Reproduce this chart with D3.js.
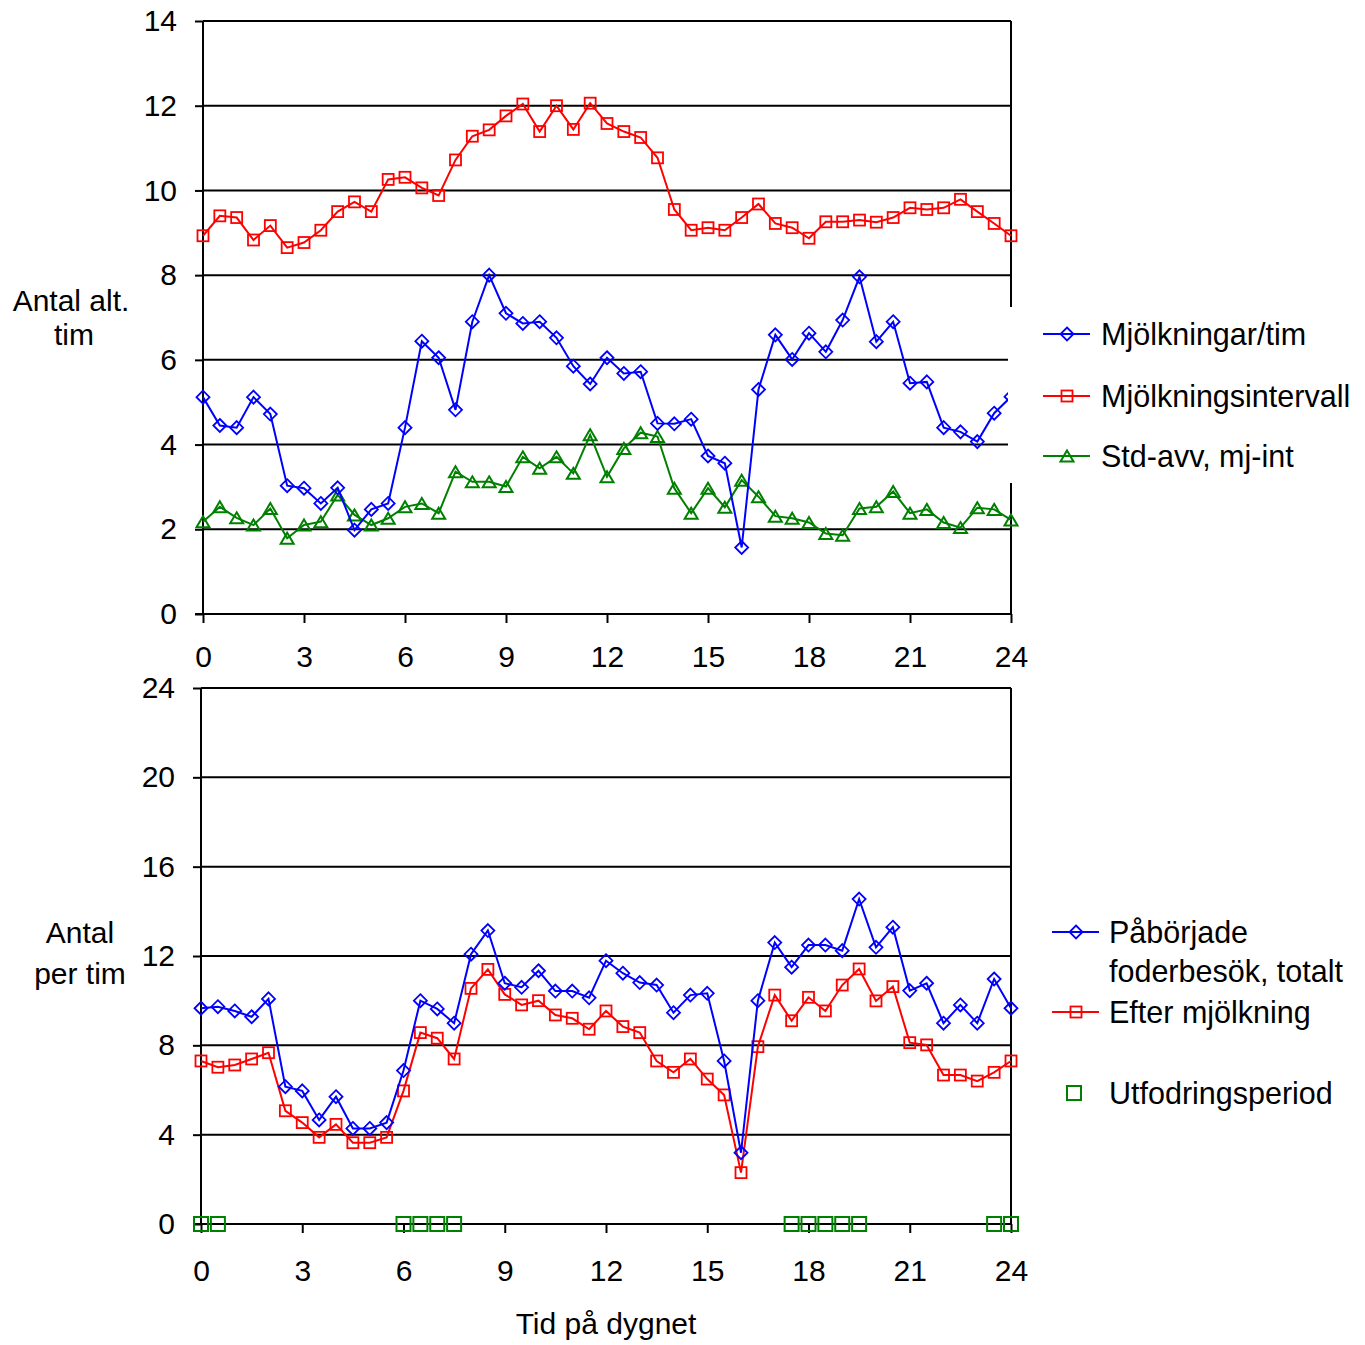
<!DOCTYPE html>
<html><head><meta charset="utf-8">
<script src="https://cdn.jsdelivr.net/npm/d3@7"></script>
<style>body{margin:0;background:#fff} text{font-family:"Liberation Sans",Arial,sans-serif;fill:#000}</style>
</head><body><svg id="c" width="1365" height="1345"></svg>
<script>
const hours = [0,0.5,1,1.5,2,2.5,3,3.5,4,4.5,5,5.5,6,6.5,7,7.5,8,8.5,9,9.5,10,10.5,11,11.5,12,12.5,13,13.5,14,14.5,15,15.5,16,16.5,17,17.5,18,18.5,19,19.5,20,20.5,21,21.5,22,22.5,23,23.5,24];
const xTicks = [0,3,6,9,12,15,18,21,24];
const topYTicks = [0,2,4,6,8,10,12,14];
const botYTicks = [0,4,8,12,16,20,24];

// Top panel
const mjolkningar = [5.12,4.45,4.40,5.12,4.72,3.03,2.97,2.61,2.98,1.98,2.47,2.61,4.40,6.44,6.05,4.82,6.90,8.00,7.10,6.86,6.90,6.52,5.85,5.43,6.05,5.68,5.72,4.50,4.49,4.60,3.73,3.56,1.57,5.30,6.59,6.01,6.63,6.19,6.94,7.96,6.43,6.90,5.45,5.48,4.40,4.30,4.07,4.74,5.13];
const intervall = [8.93,9.40,9.36,8.83,9.17,8.65,8.77,9.06,9.50,9.73,9.50,10.26,10.31,10.06,9.88,10.72,11.28,11.43,11.76,12.04,11.39,12.00,11.44,12.06,11.58,11.39,11.25,10.77,9.55,9.06,9.12,9.06,9.36,9.68,9.22,9.12,8.87,9.26,9.26,9.30,9.25,9.36,9.59,9.55,9.59,9.79,9.50,9.22,8.93];
const stdavv = [2.18,2.53,2.27,2.10,2.49,1.79,2.10,2.18,2.81,2.34,2.10,2.26,2.53,2.61,2.38,3.36,3.12,3.12,3.01,3.71,3.44,3.71,3.32,4.23,3.24,3.91,4.28,4.19,2.97,2.38,2.97,2.52,3.16,2.77,2.31,2.26,2.16,1.90,1.86,2.49,2.53,2.89,2.38,2.47,2.16,2.04,2.51,2.47,2.22];

// Bottom panel
const paborjade = [9.66,9.73,9.54,9.28,10.08,6.15,5.96,4.66,5.70,4.28,4.28,4.54,6.87,10.00,9.63,8.99,12.08,13.14,10.78,10.60,11.34,10.43,10.43,10.13,11.79,11.23,10.81,10.70,9.46,10.25,10.33,7.30,3.19,10.00,12.60,11.50,12.49,12.49,12.24,14.55,12.39,13.29,10.45,10.78,8.99,9.81,8.99,10.97,9.66];
const efter = [7.30,7.02,7.12,7.39,7.67,5.07,4.54,3.88,4.46,3.64,3.64,3.88,5.96,8.57,8.32,7.39,10.55,11.40,10.28,9.81,10.00,9.36,9.21,8.72,9.54,8.84,8.57,7.30,6.79,7.39,6.49,5.78,2.30,7.94,10.25,9.10,10.15,9.54,10.70,11.42,9.99,10.63,8.12,8.02,6.67,6.67,6.40,6.79,7.30];
const utfodringHours = [0,0.5,6,6.5,7,7.5,17.5,18,18.5,19,19.5,23.5,24];
const utfodringValues = [0,0,0,0,0,0,0,0,0,0,0,0,0];

const topLegend = ["Mjölkningar/tim","Mjölkningsintervall","Std-avv, mj-int"];
const botLegend = [["Påbörjade","foderbesök, totalt"],["Efter mjölkning"],["Utfodringsperiod"]];

const BLUE="#0000ff", RED="#ff0000", GREEN="#008000";
const svg = d3.select("#c");
const FS = 30;

function marker(g, type, x, y, color){
  if(type==="diamond"){
    const r=6.5;
    g.append("path").attr("d",`M${x},${y-r}L${x+r},${y}L${x},${y+r}L${x-r},${y}Z`)
      .attr("fill","none").attr("stroke",color).attr("stroke-width",1.8);
  } else if(type==="square"){
    const s=11;
    g.append("rect").attr("x",x-s/2).attr("y",y-s/2).attr("width",s).attr("height",s)
      .attr("fill","none").attr("stroke",color).attr("stroke-width",1.8);
  } else if(type==="triangle"){
    const w=13,h=11;
    g.append("path").attr("d",`M${x},${y-h/2}L${x+w/2},${y+h/2}L${x-w/2},${y+h/2}Z`)
      .attr("fill","none").attr("stroke",color).attr("stroke-width",2);
  } else if(type==="bigsquare"){
    const s=14;
    g.append("rect").attr("x",x-s/2).attr("y",y-s/2).attr("width",s).attr("height",s)
      .attr("fill","none").attr("stroke",color).attr("stroke-width",2);
  }
}

function panel(cfg){
  const x = d3.scaleLinear().domain([0,24]).range([cfg.x0,cfg.x1]);
  const y = d3.scaleLinear().domain([0,cfg.ymax]).range([cfg.y0,cfg.y1]);
  const g = svg.append("g");
  cfg.yTicks.filter(v=>v>0 && v<cfg.ymax).forEach(v=>{
    g.append("line").attr("x1",cfg.x0).attr("x2",cfg.x1-1).attr("y1",y(v)).attr("y2",y(v))
      .attr("stroke","#000").attr("stroke-width",2);
  });
  g.append("line").attr("x1",cfg.x0).attr("x2",cfg.x1).attr("y1",y(cfg.ymax)).attr("y2",y(cfg.ymax)).attr("stroke","#000").attr("stroke-width",2);
  g.append("line").attr("x1",cfg.x1).attr("x2",cfg.x1).attr("y1",y(cfg.ymax)).attr("y2",y(0)).attr("stroke","#000").attr("stroke-width",2);
  const ya = d3.axisLeft(y).tickValues(cfg.yTicks).tickSize(8).tickPadding(18).tickFormat(d3.format("d"));
  const yg = g.append("g").attr("transform",`translate(${cfg.x0},0)`).call(ya);
  const xa = d3.axisBottom(x).tickValues(xTicks).tickSize(9).tickPadding(cfg.xpad).tickFormat(d3.format("d"));
  const xg = g.append("g").attr("transform",`translate(0,${cfg.y0})`).call(xa);
  [yg,xg].forEach(a=>{
    a.select(".domain").attr("stroke","#000").attr("stroke-width",2);
    a.selectAll(".tick line").attr("stroke","#000").attr("stroke-width",2);
    a.selectAll(".tick text").attr("font-size",FS).attr("font-family","Liberation Sans, Arial, sans-serif").attr("fill","#000");
  });
  yg.select(".domain").attr("d",`M0,${cfg.y0}V${cfg.y1}`);
  xg.select(".domain").attr("d",`M${cfg.x0-8},0H${cfg.x1}`);
  cfg.series.forEach(s=>{
    const line = d3.line().x((d,i)=>x(s.xs[i])).y(d=>y(d));
    if(s.line) g.append("path").datum(s.values).attr("d",line).attr("fill","none").attr("stroke",s.color).attr("stroke-width",2);
    s.values.forEach((v,i)=>marker(g,s.marker,x(s.xs[i]),y(v),s.color));
  });
  return g;
}

panel({x0:203,x1:1011,y0:614,y1:21,ymax:14,yTicks:topYTicks,xpad:23,series:[
  {values:intervall,xs:hours,color:RED,marker:"square",line:true},
  {values:stdavv,xs:hours,color:GREEN,marker:"triangle",line:true},
  {values:mjolkningar,xs:hours,color:BLUE,marker:"diamond",line:true}
]});
panel({x0:201,x1:1011,y0:1224,y1:688,ymax:24,yTicks:botYTicks,xpad:27,series:[
  {values:efter,xs:hours,color:RED,marker:"square",line:true},
  {values:paborjade,xs:hours,color:BLUE,marker:"diamond",line:true},
  {values:utfodringValues,xs:utfodringHours,color:GREEN,marker:"bigsquare",line:false}
]});

function txt(t,x,y,anchor,fs){
  svg.append("text").attr("x",x).attr("y",y).attr("dy","0.35em").attr("font-size",fs||FS)
    .attr("text-anchor",anchor||"start").text(t);
}
txt("Antal alt.",71,300,"middle");
txt("tim",74,334,"middle");
txt("Antal",80,932,"middle");
txt("per tim",80,973,"middle");
txt("Tid på dygnet",606,1323,"middle");

const LFS = 30.5;
svg.append("rect").attr("x",1008).attr("y",307).attr("width",357).attr("height",176).attr("fill","#fff");
const tl = [{c:BLUE,m:"diamond",y:334},{c:RED,m:"square",y:396},{c:GREEN,m:"triangle",y:456}];
tl.forEach((d,i)=>{
  svg.append("line").attr("x1",1043).attr("x2",1090).attr("y1",d.y).attr("y2",d.y).attr("stroke",d.c).attr("stroke-width",2);
  marker(svg,d.m,1067,d.y,d.c);
  txt(topLegend[i],1101,d.y,"start",LFS);
});
svg.append("line").attr("x1",1052).attr("x2",1099).attr("y1",932).attr("y2",932).attr("stroke",BLUE).attr("stroke-width",2);
marker(svg,"diamond",1076,932,BLUE);
txt(botLegend[0][0],1109,932,"start",LFS);
txt(botLegend[0][1],1109,971,"start",LFS);
svg.append("line").attr("x1",1052).attr("x2",1099).attr("y1",1012).attr("y2",1012).attr("stroke",RED).attr("stroke-width",2);
marker(svg,"square",1076,1012,RED);
txt(botLegend[1][0],1109,1012,"start",LFS);
marker(svg,"bigsquare",1074,1093,GREEN);
txt(botLegend[2][0],1109,1093,"start",LFS);
</script></body></html>
